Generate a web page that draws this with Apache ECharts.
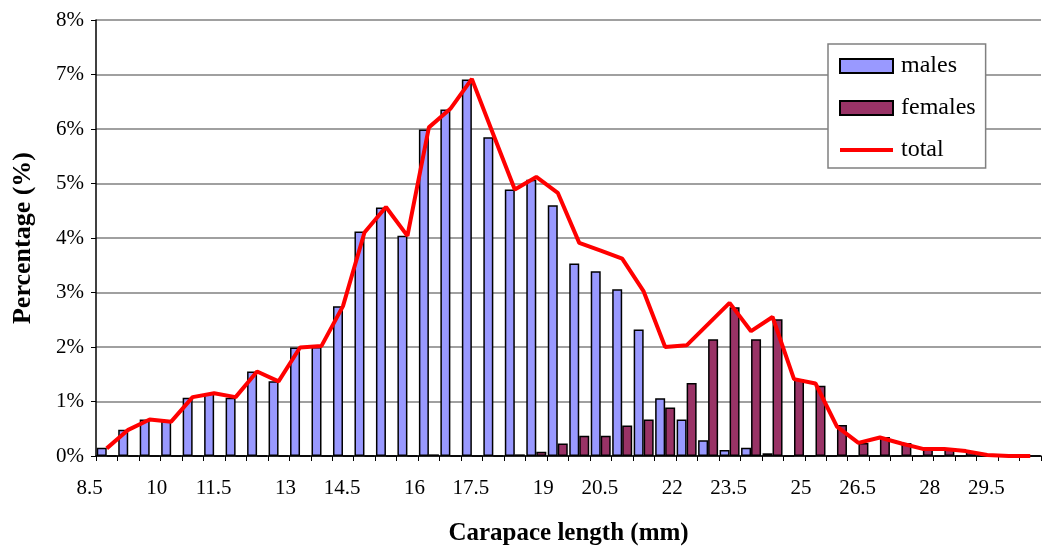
<!DOCTYPE html>
<html>
<head>
<meta charset="utf-8">
<script src="https://cdn.jsdelivr.net/npm/echarts@6/dist/echarts.min.js"></script>
<style>
html,body{margin:0;padding:0;background:#fff;}
#chart{width:1043px;height:554px;}
</style>
</head>
<body>
<div id="chart"></div>
<script>
var categories = ['8.5','9','9.5','10','10.5','11','11.5','12','12.5','13','13.5','14','14.5','15','15.5','16','16.5','17','17.5','18','18.5','19','19.5','20','20.5','21','21.5','22','22.5','23','23.5','24','24.5','25','25.5','26','26.5','27','27.5','28','28.5','29','29.5','30'];
var males = [0.15,0.48,0.67,0.64,1.07,1.15,1.07,1.55,1.37,1.99,2.0,2.75,4.12,4.56,4.04,5.99,6.36,6.91,5.85,4.89,5.07,4.6,3.53,3.39,3.06,2.32,1.06,0.67,0.29,0.11,0.15,0.05,0,0,0,0,0,0,0,0,0,0,0,0];
var females = [0,0,0,0,0,0,0,0,0,0,0,0,0,0,0,0.03,0,0,0,0.03,0.08,0.23,0.37,0.37,0.56,0.67,0.89,1.34,2.14,2.73,2.14,2.51,1.41,1.29,0.57,0.24,0.35,0.24,0.14,0.14,0.09,0.02,0,0];
var total = [0.14,0.48,0.67,0.63,1.08,1.15,1.08,1.55,1.37,1.99,2.02,2.75,4.1,4.57,4.04,6.03,6.37,6.92,5.9,4.89,5.12,4.83,3.91,3.77,3.62,3.02,2.0,2.03,2.42,2.81,2.29,2.55,1.41,1.33,0.54,0.24,0.34,0.23,0.13,0.13,0.09,0.02,0,0];

var FONT = 'Liberation Serif, Times New Roman, serif';
var chart = echarts.init(document.getElementById('chart'));
chart.setOption({
  animation: false,
  backgroundColor: '#fff',
  grid: {left: 96, right: 2, top: 20, bottom: 98},
  legend: {
    orient: 'vertical',
    left: 828, top: 44,
    padding: [10, 10, 6, 10],
    itemGap: 18,
    itemWidth: 53, itemHeight: 14,
    backgroundColor: '#fff',
    borderColor: '#808080', borderWidth: 1.5,
    textStyle: {fontFamily: FONT, fontSize: 24, color: '#000', padding: [0,0,0,3]},
    data: [{name:'males', icon:'rect'}, {name:'females', icon:'rect'},
           {name:'total', itemStyle: {opacity: 0}, lineStyle: {color: '#FF0000', width: 4}}]
  },
  xAxis: {
    type: 'category',
    data: categories,
    boundaryGap: true,
    name: 'Carapace length (mm)',
    nameLocation: 'middle',
    nameGap: 65,
    nameTextStyle: {fontFamily: FONT, fontSize: 25, fontWeight: 'bold', color: '#000'},
    axisLine: {lineStyle: {color: '#000', width: 1.5}},
    axisTick: {show: true, interval: 0, length: 5, alignWithLabel: false, lineStyle: {color: '#000', width: 1}},
    axisLabel: {interval: 2, fontFamily: FONT, fontSize: 21, color: '#000', margin: 22, align: 'right', padding: [0, 4, 0, 0]},
    splitLine: {show: false}
  },
  yAxis: {
    type: 'value',
    min: 0, max: 8, interval: 1,
    name: 'Percentage (%)',
    nameLocation: 'middle',
    nameGap: 60,
    nameRotate: 90,
    nameTextStyle: {fontFamily: FONT, fontSize: 26, fontWeight: 'bold', color: '#000'},
    axisLine: {show: true, lineStyle: {color: '#000', width: 1.5}},
    axisTick: {show: true, length: 5, lineStyle: {color: '#000', width: 1}},
    axisLabel: {formatter: '{value}%', fontFamily: FONT, fontSize: 21, color: '#000', margin: 12},
    splitLine: {show: true, lineStyle: {color: '#808080', width: 1.5}}
  },
  series: [
    {name: 'males', type: 'bar', data: males, barWidth: 10, barGap: '0%',
     itemStyle: {color: '#9999FF', borderColor: '#000', borderWidth: 1.5}},
    {name: 'females', type: 'bar', data: females, barWidth: 10, barGap: '0%',
     itemStyle: {color: '#993366', borderColor: '#000', borderWidth: 1.5}},
    {name: 'total', type: 'line', data: total, symbol: 'none', z: 5,
     lineStyle: {color: '#FF0000', width: 4}, itemStyle: {color: '#FF0000'}}
  ]
});
</script>
</body>
</html>
